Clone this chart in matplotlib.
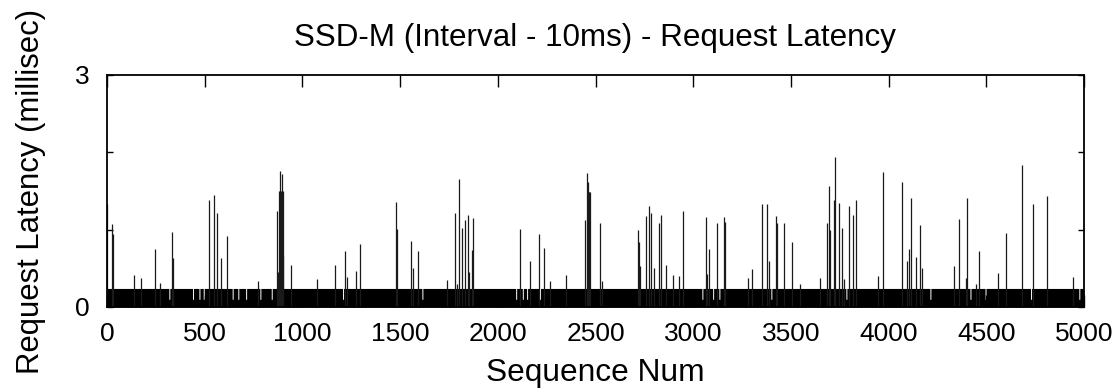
import numpy as np
import matplotlib
matplotlib.use("Agg")
import matplotlib.pyplot as plt

# ---- data ----
n_requests = 5000
base_latency = 0.24          # typical request latency (ms), top of dense band
dip_latency = 0.10           # latency in the short low stretches
dip_width = 5                # samples per low stretch

spike_seq = [2, 24, 29, 138, 172, 246, 271, 334, 339, 522, 548, 563, 582, 612, 771,
             868, 875, 880, 884, 887, 890, 893, 896, 899, 903, 940, 1076, 1167, 1218, 1230,
             1276, 1295, 1477, 1482, 1554, 1564, 1590, 1738, 1779, 1789, 1803, 1815,
             1832, 1849, 1854, 1866, 1871, 2114, 2167, 2209, 2238, 2267, 2349, 2445,
             2457, 2462, 2465, 2467, 2470, 2523, 2535, 2715, 2725, 2730, 2756, 2774, 2786,
             2797, 2826, 2833, 2862, 2898, 2927, 2946, 3064, 3069, 3079, 3121, 3156,
             3163, 3282, 3301, 3352, 3376, 3388, 3422, 3427, 3465, 3504, 3546, 3647,
             3683, 3693, 3698, 3719, 3724, 3746, 3763, 3770, 3799, 3818, 3835, 3947,
             3971, 4070, 4092, 4105, 4113, 4142, 4161, 4169, 4335, 4358, 4395, 4401,
             4447, 4461, 4560, 4601, 4684, 4737, 4809, 4942]
spike_ms = [1.33, 1.07, 0.95, 0.42, 0.375, 0.75, 0.31, 0.97, 0.63, 1.39, 1.45, 1.21, 0.63,
            0.92, 0.34, 1.24, 0.45, 1.50, 1.50, 1.76, 1.50, 1.15, 1.72, 1.50, 0.67, 0.54,
            0.36, 0.54, 0.73, 0.39, 0.47, 0.81, 1.36, 1.01, 0.85, 0.50, 0.72, 0.35, 1.21,
            0.30, 1.66, 1.02, 1.13, 1.19, 0.45, 0.74, 1.15, 1.01, 0.59, 0.94, 0.76, 0.34,
            0.42, 1.13, 1.73, 1.62, 1.49, 1.49, 1.49, 1.08, 0.34, 0.99, 0.84, 0.53, 1.18,
            1.30, 1.22, 0.50, 1.09, 1.19, 0.54, 0.42, 0.40, 1.24, 1.16, 0.43, 0.75, 1.09,
            1.16, 1.10, 0.37, 0.49, 1.33, 1.33, 0.60, 1.18, 1.09, 1.09, 0.84, 0.30, 0.37,
            1.09, 1.56, 1.00, 1.39, 1.94, 1.34, 1.02, 0.36, 1.30, 1.19, 1.39, 0.40, 1.75,
            1.62, 0.59, 0.75, 1.41, 0.65, 1.06, 0.51, 0.53, 1.14, 0.37, 1.41, 0.30, 0.72,
            0.44, 0.96, 1.84, 1.33, 1.44, 0.39]
dip_seq = [317, 438, 471, 493, 641, 670, 710, 783, 841, 1206, 1612, 2092, 2126, 2148,
           2214, 3045, 3100, 3132, 3398, 3782, 4212, 4417, 4494, 4727, 4974]

x_ticks = [0, 500, 1000, 1500, 2000, 2500, 3000, 3500, 4000, 4500, 5000]
y_ticks = [0, 1, 2, 3]
y_tick_labels = ["0", "", "", "3"]

title = "SSD-M (Interval - 10ms) - Request Latency"
xlabel = "Sequence Num"
ylabel = "Request Latency (millisec)"

# ---- build the series ----
seq = np.arange(n_requests)
latency = np.full(n_requests, base_latency)
for s in dip_seq:
    latency[s:s + dip_width] = dip_latency
latency[np.array(spike_seq)] = spike_ms

# ---- plot ----
plt.rcParams['font.family'] = ['Liberation Sans', 'DejaVu Sans']
fig = plt.figure(figsize=(11.19, 3.92), dpi=100)
ax = fig.add_axes([107 / 1119, 1 - 307 / 392, 977 / 1119, 232 / 392])

band = np.minimum(latency, base_latency)
ax.fill_between(seq, 0, band, step='mid', color='black', lw=0)
mask = latency > base_latency
ax.vlines(seq[mask], 0, latency[mask], color='#1a1a1a', lw=0.9)

ax.set_xlim(0, 5000)
ax.set_ylim(0, 3)
ax.set_xticks(x_ticks)
ax.set_yticks(y_ticks)
ax.set_yticklabels(y_tick_labels)
ax.tick_params(axis='x', direction='in', length=8.5, width=1.0, top=True,
               labelsize=19, pad=10.5)
ax.tick_params(axis='y', direction='in', length=4.5, width=1.0, right=True,
               labelsize=19, pad=12.5)
for sp in ax.spines.values():
    sp.set_linewidth(1.3)

ax.set_title(title, fontsize=22.6, pad=21)
ax.set_xlabel(xlabel, fontsize=22.8, labelpad=9)
ax.set_ylabel(ylabel, fontsize=22.4, labelpad=21)

fig.savefig("out.png", dpi=100)
